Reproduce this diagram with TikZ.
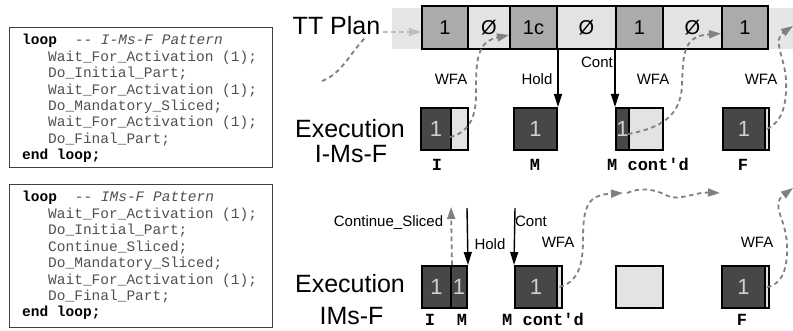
\documentclass[tikz,border=0pt]{standalone}
\usepackage{fontspec}
\setmainfont{Liberation Sans}
\setmonofont{Liberation Mono}
\usetikzlibrary{arrows.meta}

\definecolor{plandark}{HTML}{ABABAB}
\definecolor{planlight}{HTML}{E3E3E3}
\definecolor{bandgray}{HTML}{E6E6E6}
\definecolor{blockdark}{HTML}{474747}
\definecolor{blocklight}{HTML}{E3E3E3}
\definecolor{numgray}{HTML}{D0D0D0}
\definecolor{wfagray}{HTML}{808080}
\definecolor{fadegray}{HTML}{BDBDBD}
\definecolor{codegray}{HTML}{505050}

\begin{document}
\begin{tikzpicture}[x=1pt,y=-1pt,
  plancell/.style={draw=black, line width=2pt, minimum height=43pt, inner sep=0pt,
    font=\fontsize{20}{20}\selectfont},
  blk/.style={draw=black, line width=2pt, minimum height=42pt, inner sep=0pt,
    fill=blockdark, text=numgray, font=\fontsize{22}{22}\selectfont},
  blklight/.style={blk, fill=blocklight},
  tag/.style={anchor=base, inner sep=0pt, font=\fontsize{17}{17}\selectfont\ttfamily\bfseries},
  big/.style={anchor=base, inner sep=0pt, font=\fontsize{25}{25}\selectfont},
  small/.style={anchor=base, inner sep=0pt, font=\fontsize{15}{15}\selectfont},
  wfa/.style={draw=wfagray, line width=1.8pt, dash pattern=on 4.5pt off 3.5pt,
    -{Triangle[length=12pt,width=8pt]}},
  hold/.style={draw=black, line width=1.4pt, -{Triangle[length=13pt,width=8pt]}},
  codebox/.style={draw=black!75, line width=1pt, inner sep=0pt},
  codeline/.style={anchor=base west, inner sep=0pt, text=codegray,
    font=\fontsize{14.5}{16.4}\selectfont\ttfamily},
  kw/.style={codeline, text=black, font=\fontsize{14.5}{16.4}\selectfont\ttfamily\bfseries}
]
\useasboundingbox (0,0) rectangle (793,331);

% code of the two patterns
\node[codebox, minimum width=263pt, minimum height=140pt] (codeA) at (140.5,98) {};
\node[kw] (a0) at (22,45) {loop};
\node[codeline] at (a0.base east) {~~-- \textit{I-Ms-F Pattern}};
\node[codeline] (a1) at (48,61.4) {Wait\_For\_Activation (1);};
\node[codeline] (a2) at (48,77.8) {Do\_Initial\_Part;};
\node[codeline] (a3) at (48,94.2) {Wait\_For\_Activation (1);};
\node[codeline] (a4) at (48,110.6) {Do\_Mandatory\_Sliced;};
\node[codeline] (a5) at (48,127) {Wait\_For\_Activation (1);};
\node[codeline] (a6) at (48,143.4) {Do\_Final\_Part;};
\node[kw] (a7) at (22,159.8) {end loop;};

\node[codebox, minimum width=263pt, minimum height=142pt] (codeB) at (140.5,256) {};
\node[kw] (b0) at (22,202) {loop};
\node[codeline] at (b0.base east) {~~-- \textit{IMs-F Pattern}};
\node[codeline] (b1) at (48,218.4) {Wait\_For\_Activation (1);};
\node[codeline] (b2) at (48,234.8) {Do\_Initial\_Part;};
\node[codeline] (b3) at (48,251.2) {Continue\_Sliced;};
\node[codeline] (b4) at (48,267.6) {Do\_Mandatory\_Sliced;};
\node[codeline] (b5) at (48,284) {Wait\_For\_Activation (1);};
\node[codeline] (b6) at (48,300.4) {Do\_Final\_Part;};
\node[kw] (b7) at (22,316.8) {end loop;};

% TT plan
\fill[bandgray] (392,8) rectangle (793,49);
\node[plancell, fill=plandark, minimum width=46pt] (p1) at (445,27.5) {1};
\node[plancell, fill=planlight, minimum width=42pt] (p2) at (489,27.5) {Ø};
\node[plancell, fill=plandark, minimum width=47pt] (p3) at (533.5,27.5) {1c};
\node[plancell, fill=planlight, minimum width=59pt] (p4) at (586.5,27.5) {Ø};
\node[plancell, fill=plandark, minimum width=47pt] (p5) at (639.5,27.5) {1};
\node[plancell, fill=planlight, minimum width=59pt] (p6) at (692.5,27.5) {Ø};
\node[plancell, fill=plandark, minimum width=46pt] (p7) at (745,27.5) {1};
\node[big] (ttplan) at (336.5,35) {TT Plan};

% execution I-Ms-F
\node[big] (exA) at (350,138) {Execution};
\node[big] (patA) at (351,163) {I-Ms-F};
\node[blk, minimum width=30pt] (iA) at (436,129) {1};
\node[blklight, minimum width=17pt] (iB) at (459.5,129) {};
\node[blk, minimum width=43pt] (mA) at (535.5,129) {1};
\node[blk, minimum width=13pt] (cA) at (622.5,129) {1};
\node[blklight, minimum width=34pt] (cB) at (646,129) {};
\node[blk, minimum width=42pt] (fA) at (744,129) {1};
\node[blklight, minimum width=4pt] (fB) at (767,129) {};
\node[tag] at (437,171) {I};
\node[tag] at (535,171) {M};
\node[tag] at (648,171) {M cont'd};
\node[tag] at (743,171) {F};

% execution IMs-F
\node[big] (exB) at (350,293) {Execution};
\node[big] (patB) at (351.5,324) {IMs-F};
\node[blk, minimum width=29pt] (jA) at (436.5,287) {1};
\node[blk, minimum width=16pt] (jB) at (459,287) {1};
\node[blk, minimum width=42pt] (kA) at (536,287) {1};
\node[blklight, minimum width=5pt] (kB) at (559.5,287) {};
\node[blklight, minimum width=47pt] (idle) at (639.5,287) {};
\node[blk, minimum width=43pt] (gA) at (743.5,287) {1};
\node[blklight, minimum width=4pt] (gB) at (767,287) {};
\node[tag] at (430,326) {I};
\node[tag] at (462,326) {M};
\node[tag] at (543,326) {M cont'd};
\node[tag] at (742,326) {F};

% free ends
\coordinate (w0) at (322,81);
\coordinate (w0e) at (366,37);
\coordinate (w1) at (383,32);
\coordinate (wout1) at (793,26);
\coordinate (cs) at (451,207);
\coordinate (h2) at (467,208);
\coordinate (c2) at (515,208);
\coordinate (n1) at (623,193);
\coordinate (n2) at (720,193);
\coordinate (wout2) at (793,188);

% plan -> execution
\draw[hold] (p3.south east) -- (mA.north east);
\draw[hold] (p5.south west) -- (cA.north west);
\node[small] at (537,85) {Hold};
\node[small] at (597,68) {Cont};
\draw[hold] (h2) -- (jB.north east);
\draw[hold] (c2) -- (kA.north west);
\draw[wfa] (jA.north east) -- (cs);
\node[small] at (388.5,227) {Continue\_Sliced};
\node[small] at (490,250) {Hold};
\node[small] at (531,227) {Cont};

% wait for activation
\draw[wfa, -] (w0) .. controls (342,74) and (352,50) .. (w0e);
\draw[wfa, draw=fadegray] (w1) -- (w1 -| p1.west);
\draw[wfa] ([yshift=-8pt]iB.west) .. controls (468,133) and (476,118) .. (476,95)
  .. controls (476,62) and (476,42) .. ([xshift=-2pt,yshift=-7.5pt]p2.east);
\draw[wfa] ([yshift=-5pt]cB.west) .. controls (662,128) and (681,115) .. (682,85)
  .. controls (683,52) and (684,36) .. ([xshift=-2pt,yshift=-6pt]p6.east);
\draw[wfa] (fB.center) .. controls (782,122) and (787,105) .. (786,80)
  .. controls (785,58) and (772,40) .. (wout1);
\draw[wfa] (kB.center) .. controls (578,282) and (583,265) .. (583,240)
  .. controls (583,205) and (588,195) .. (n1);
\draw[wfa] ([xshift=4pt]n1) .. controls (640,187) and (655,189) .. (668,196)
  .. controls (680,201) and (695,192) .. (n2);
\draw[wfa] (gB.center) .. controls (782,285) and (788,268) .. (787,245)
  .. controls (786,218) and (770,205) .. (wout2);
\node[small] at (451,85) {WFA};
\node[small] at (653,85) {WFA};
\node[small] at (761,85) {WFA};
\node[small] at (558,248) {WFA};
\node[small] at (757,248) {WFA};
\end{tikzpicture}
\end{document}
